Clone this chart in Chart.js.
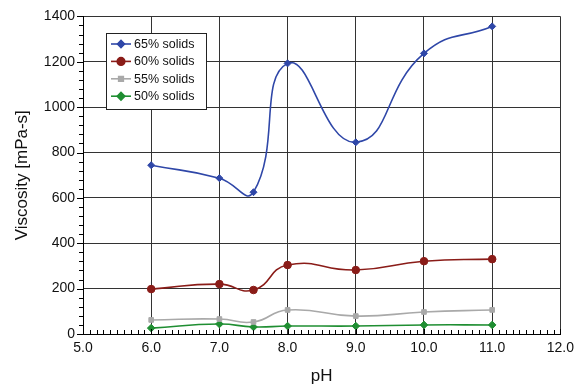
<!DOCTYPE html>
<html>
<head>
<meta charset="utf-8">
<script src="https://cdn.jsdelivr.net/npm/chart.js@4/dist/chart.umd.min.js"></script>
<style>
  html, body { margin: 0; padding: 0; background: #fff; }
  #wrap { width: 580px; height: 387px; position: relative; }
</style>
</head>
<body>
<div id="wrap"><canvas id="c" width="580" height="387"></canvas></div>
<script>
// pH values at which viscosity was measured
const phValues = [6.0, 7.0, 7.5, 8.0, 9.0, 10.0, 11.0];

// Viscosity (mPa-s) for each solids content
const solids65 = [744, 687, 625, 1193, 845, 1237, 1356];
const solids60 = [198, 220, 194, 304, 282, 321, 330];
const solids55 = [62, 66, 53, 106, 79, 97, 106];
const solids50 = [26, 44, 31, 35, 35, 40, 40];

const seriesNames = ['65% solids', '60% solids', '55% solids', '50% solids'];

const FONT = '"Liberation Sans", Arial, sans-serif';

function pts(vals) { return phValues.map((x, i) => ({ x: x, y: vals[i] })); }

function ds(label, vals, color, style, r) {
  return {
    label: label, data: pts(vals),
    borderColor: color, backgroundColor: color,
    borderWidth: 1.6, pointStyle: style, pointRadius: r, pointHoverRadius: r,
    pointBorderWidth: 1, tension: 0.5, fill: false
  };
}

// Inward x ticks, outward y ticks, and the boxed legend inside the plot
const decor = {
  id: 'decor',
  afterDatasetsDraw(chart) {
    const ctx = chart.ctx, xs = chart.scales.x, ys = chart.scales.y;
    const a = chart.chartArea;
    ctx.save();
    ctx.strokeStyle = '#000';
    ctx.lineWidth = 1;
    ctx.beginPath();
    for (let i = 0; i <= 70; i++) {
      const px = Math.round(xs.getPixelForValue(5 + i / 10)) + 0.5;
      const len = (i % 10 === 0) ? 5 : 4;
      ctx.moveTo(px, a.bottom); ctx.lineTo(px, a.bottom - len);
    }
    for (let i = 0; i <= 35; i++) {
      const py = Math.round(ys.getPixelForValue(i * 40)) + 0.5;
      const len = (i % 5 === 0) ? 6 : 4;
      ctx.moveTo(a.left, py); ctx.lineTo(a.left - len, py);
    }
    ctx.stroke();

    // legend
    const bx = 106.5, by = 33.5, bw = 100, bh = 76;
    ctx.fillStyle = '#fff';
    ctx.fillRect(bx, by, bw, bh);
    ctx.strokeStyle = '#222';
    ctx.strokeRect(bx, by, bw, bh);
    ctx.font = '12.5px ' + FONT;
    ctx.textBaseline = 'middle';
    chart.data.datasets.forEach((d, i) => {
      const cy = 44 + i * 17.4;
      ctx.strokeStyle = d.borderColor;
      ctx.lineWidth = 1.6;
      ctx.beginPath(); ctx.moveTo(111, cy); ctx.lineTo(131, cy); ctx.stroke();
      ctx.fillStyle = d.backgroundColor;
      Chart.helpers.drawPoint(ctx, { pointStyle: d.pointStyle, radius: d.pointRadius, borderWidth: 1 }, 121, cy);
      ctx.fill();
      ctx.fillStyle = '#111';
      ctx.fillText(d.label, 134, cy + 0.5);
    });
    ctx.restore();
  }
};

new Chart(document.getElementById('c'), {
  type: 'line',
  data: {
    datasets: [
      ds(seriesNames[0], solids65, '#2f47a8', 'rectRot', 3.5),
      ds(seriesNames[1], solids60, '#8a1c18', 'circle', 3.8),
      ds(seriesNames[2], solids55, '#a9a9a9', 'rect', 3.3),
      ds(seriesNames[3], solids50, '#1f8e32', 'rectRot', 3.8)
    ]
  },
  options: {
    responsive: false, animation: false,
    layout: { padding: { top: 16, right: 19, left: 0, bottom: 0 } },
    plugins: { legend: { display: false }, tooltip: { enabled: false } },
    scales: {
      x: {
        type: 'linear', min: 5, max: 12,
        ticks: { stepSize: 1, callback: v => v.toFixed(1), color: '#111', font: { family: FONT, size: 14 }, padding: 6 },
        grid: { color: '#333', lineWidth: 1, drawTicks: false },
        border: { color: '#000', width: 1 },
        title: { display: true, text: 'pH', color: '#111', font: { family: FONT, size: 17 }, padding: { top: 1, bottom: 0 } },
        afterFit(s) { s.height = 53; }
      },
      y: {
        min: 0, max: 1400,
        ticks: { stepSize: 200, callback: v => String(v), color: '#111', font: { family: FONT, size: 14 }, padding: 8 },
        grid: { color: '#333', lineWidth: 1, drawTicks: false },
        border: { color: '#000', width: 1 },
        title: { display: true, text: 'Viscosity [mPa-s]', color: '#111', font: { family: FONT, size: 17 }, padding: { top: 12, bottom: 4 } },
        afterFit(s) { s.width = 83; }
      }
    }
  },
  plugins: [decor]
});
</script>
</body>
</html>
